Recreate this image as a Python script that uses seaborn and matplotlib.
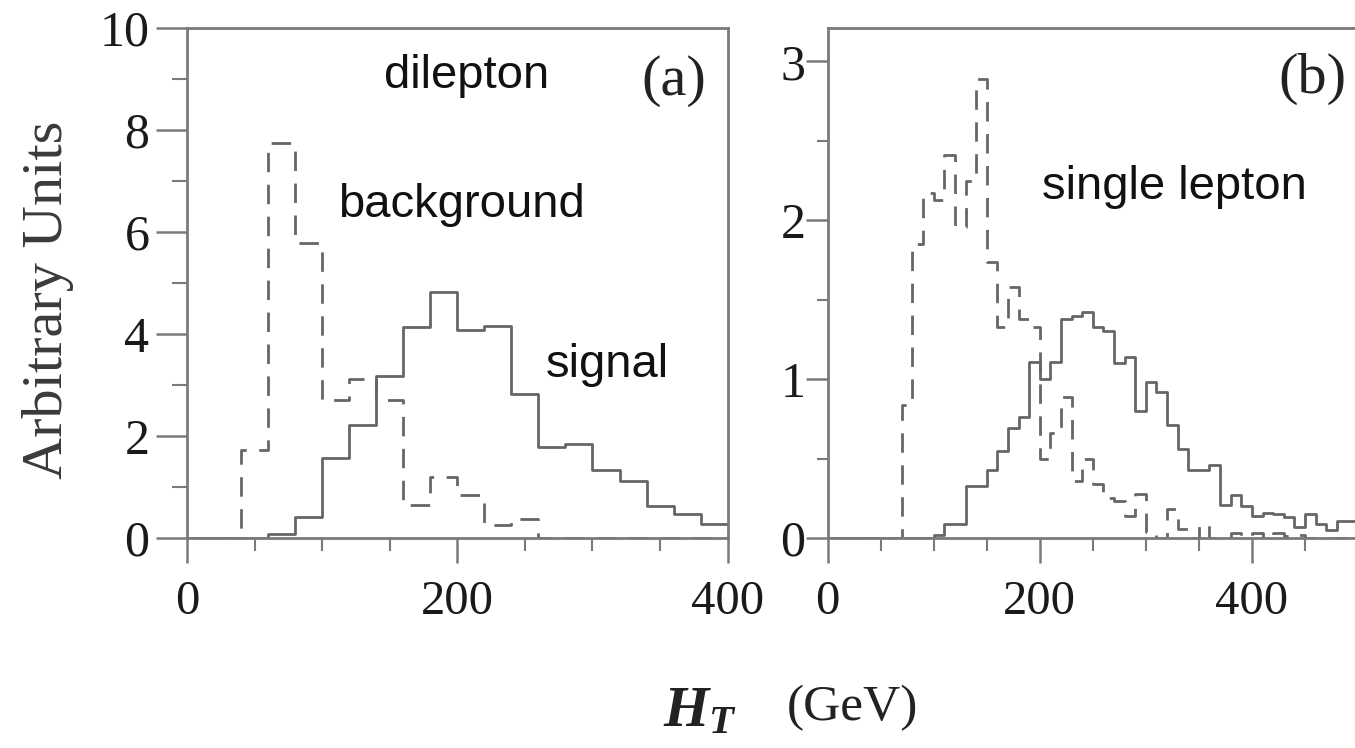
import numpy as np
import pandas as pd
import matplotlib
matplotlib.use("Agg")
import matplotlib.pyplot as plt
import seaborn as sns

# ---- panel (a): dilepton, 20 GeV bins from 0 to 400 ----
edges_a = list(range(0, 420, 20))
signal_a = [0, 0, 0, 0.08, 0.42, 1.56, 2.21, 3.18, 4.13, 4.83,
            4.07, 4.15, 2.82, 1.79, 1.85, 1.33, 1.12, 0.62, 0.47, 0.28]
background_a = [0, 0, 1.73, 7.75, 5.78, 2.70, 3.12, 2.70, 0.64, 1.20,
                0.84, 0.25, 0.38, 0, 0, 0, 0, 0, 0, 0]

# ---- panel (b): single lepton, 10 GeV bins from 0 to 500 ----
edges_b = list(range(0, 510, 10))
signal_b = [0, 0, 0, 0, 0, 0, 0, 0, 0, 0,
            0.02, 0.09, 0.09, 0.33, 0.33, 0.43, 0.55, 0.69, 0.76, 1.11,
            1.00, 1.11, 1.38, 1.40, 1.42, 1.33, 1.30, 1.10, 1.14, 0.80,
            0.98, 0.92, 0.71, 0.56, 0.43, 0.43, 0.46, 0.21, 0.27, 0.20,
            0.14, 0.16, 0.15, 0.13, 0.07, 0.15, 0.09, 0.05, 0.11, 0.11]
background_b = [0, 0, 0, 0, 0, 0, 0, 0.84, 1.85, 2.17,
                2.13, 2.41, 1.96, 2.25, 2.89, 1.74, 1.33, 1.58, 1.38, 1.33,
                0.50, 0.66, 0.89, 0.36, 0.50, 0.34, 0.25, 0.23, 0.14, 0.28,
                0.04, 0.0, 0.18, 0.06, 0.0, 0.08, 0.0, 0.0, 0.03, 0.01,
                0.03, 0.0, 0.03, 0.01, 0.02, 0.0, 0.0, 0.0, 0.0, 0.0]

x_ticks_a = [0, 200, 400]
y_ticks_a = [0, 2, 4, 6, 8, 10]
x_ticks_b = [0, 200, 400]
y_ticks_b = [0, 1, 2, 3]

sns.set_theme(style="white")
plt.rcParams["font.family"] = ["Liberation Serif", "DejaVu Serif"]
plt.rcParams["mathtext.fontset"] = "custom"
plt.rcParams["mathtext.rm"] = "Liberation Serif"
plt.rcParams["mathtext.it"] = "Liberation Serif:italic:bold"

LINE = "#666666"
SPINE = "#7a7a7a"
LW = 2.0

fig = plt.figure(figsize=(13.55, 7.48), dpi=100)
ax_a = fig.add_axes([0.138, 0.2807, 0.537 - 0.138, 0.9626 - 0.2807])
ax_b = fig.add_axes([0.6108, 0.2807, 1.0022 - 0.6108, 0.9626 - 0.2807])


def draw_hist(ax, edges, values, dashed):
    centers = [(lo + hi) / 2 for lo, hi in zip(edges[:-1], edges[1:])]
    df = pd.DataFrame({"HT": centers, "w": values})
    kw = dict(linestyle=(0, (7, 4.5))) if dashed else {}
    sns.histplot(data=df, x="HT", weights="w", bins=edges, element="step",
                 fill=False, color=LINE, linewidth=LW, ax=ax, **kw)


draw_hist(ax_a, edges_a, background_a, True)
draw_hist(ax_a, edges_a, signal_a, False)
draw_hist(ax_b, edges_b, background_b, True)
draw_hist(ax_b, edges_b, signal_b, False)

ax_a.set_xlim(0, 400)
ax_a.set_ylim(0, 10)
ax_b.set_xlim(0, 500)
ax_b.set_ylim(0, 3.21)

for ax, xt, yt, xminor, yminor, ylen, ypad in [
    (ax_a, x_ticks_a, y_ticks_a, 50, 1, 22, 5),
    (ax_b, x_ticks_b, y_ticks_b, 50, 0.5, 16, 0),
]:
    ax.set_xticks(xt)
    ax.set_yticks(yt)
    ax.xaxis.set_minor_locator(matplotlib.ticker.MultipleLocator(xminor))
    ax.yaxis.set_minor_locator(matplotlib.ticker.MultipleLocator(yminor))
    ax.tick_params(which="both", direction="out", color=SPINE,
                   bottom=True, left=True)
    ax.tick_params(axis="x", which="major", length=18, width=1.8,
                   pad=12, labelsize=35, labelcolor="#1a1a1a")
    ax.tick_params(axis="x", which="minor", length=9, width=1.5)
    ax.tick_params(axis="y", which="major", length=ylen, width=1.8,
                   pad=ypad, labelsize=36, labelcolor="#1a1a1a")
    ax.tick_params(axis="y", which="minor", length=ylen / 2, width=1.5)
    ax.set_xlabel("")
    ax.set_ylabel("")
    for s in ax.spines.values():
        s.set_color(SPINE)
        s.set_linewidth(2.0)
    ax.grid(False)

ax_b.spines["right"].set_visible(False)

sans = ["Liberation Sans", "DejaVu Sans"]
ax_a.text(207, 9.06, "dilepton", family=sans, fontsize=34, ha="center",
          va="center", color="#111111")
ax_a.text(203, 6.52, "background", family=sans, fontsize=34, ha="center",
          va="center", color="#111111")
ax_a.text(311, 3.40, "signal", family=sans, fontsize=34, ha="center",
          va="center", color="#111111")
ax_a.text(360, 8.96, "(a)", fontsize=42, ha="center", va="center",
          color="#222222")
ax_b.text(327, 2.21, "single lepton", family=sans, fontsize=34,
          ha="center", va="center", color="#111111")
ax_b.text(457, 2.89, "(b)", fontsize=42, ha="center", va="center",
          color="#222222")

fig.text(48 / 1355, 1 - 300 / 748, "Arbitrary Units", rotation=90,
         fontsize=42, ha="center", va="center", color="#3a3a3a")
fig.text(700 / 1355, 1 - 712 / 748, r"$H_T$", fontsize=42,
         ha="center", va="center", color="#222222")
fig.text(852 / 1355, 1 - 708 / 748, "(GeV)", fontsize=37,
         ha="center", va="center", color="#222222")

fig.savefig("out.png", dpi=100)
